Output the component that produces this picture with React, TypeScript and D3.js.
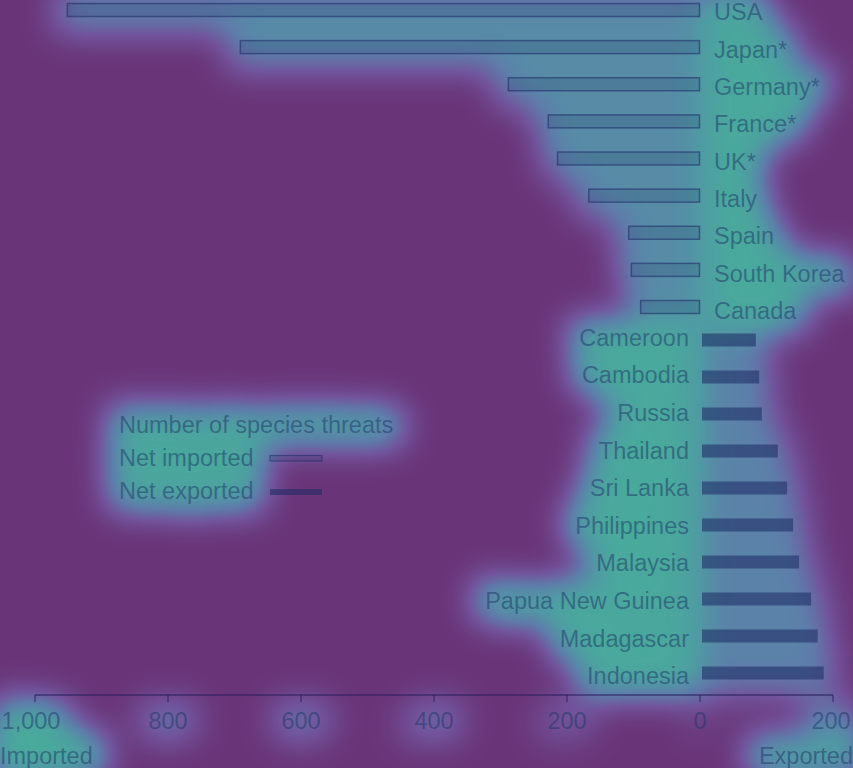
import { useEffect } from "react";
import * as d3 from "d3";

// Countries that import more species threats than they export (top block)
const importers = ["USA", "Japan*", "Germany*", "France*", "UK*", "Italy", "Spain", "South Korea", "Canada"];
const importedThreats = [952, 692, 289, 229, 215, 168, 108, 104, 90];

// Countries that export more species threats (bottom block)
const exporters = [
  "Cameroon", "Cambodia", "Russia", "Thailand", "Sri Lanka",
  "Philippines", "Malaysia", "Papua New Guinea", "Madagascar", "Indonesia",
];
const exportedThreats = [84, 89, 93, 117, 131, 140, 149, 167, 177, 186];

const tickValues = [-1000, -800, -600, -400, -200, 0, 200];

const W = 853;
const H = 768;
const FONT = "'Liberation Sans', Arial, sans-serif";

// colour ramp of the attention overlay (low -> high)
const ramp = [
  [106, 53, 120],
  [114, 84, 156],
  [95, 124, 170],
  [80, 154, 164],
  [72, 174, 154],
];
const table = (k: number) => ramp.map((c) => (c[k] / 255).toFixed(3)).join(" ");

type Row = { name: string; value: number; kind: "imp" | "exp"; by: number; ly: number };

export default function App() {
  useEffect(() => {
    document.body.style.margin = "0";
  }, []);

  // two blocks, each on its own point scale (bars and labels are spaced slightly differently)
  const yImpBar = d3.scalePoint<string>().domain(importers).range([10, 307]);
  const yImpLab = d3.scalePoint<string>().domain(importers).range([12, 311]);
  const yExpBar = d3.scalePoint<string>().domain(exporters).range([340, 673]);
  const yExpLab = d3.scalePoint<string>().domain(exporters).range([337.5, 676]);

  const rows: Row[] = [
    ...importers.map((n, i) => ({ name: n, value: -importedThreats[i], kind: "imp" as const, by: yImpBar(n)!, ly: yImpLab(n)! })),
    ...exporters.map((n, i) => ({ name: n, value: exportedThreats[i], kind: "exp" as const, by: yExpBar(n)!, ly: yExpLab(n)! })),
  ];

  const x = d3.scaleLinear().domain([-1000, 200]).range([35, 833]);
  const barH = 13;
  const x0 = x(0);
  const axisY = 695;
  const fmt = d3.format(",");
  const fs = 23.5;

  const tickGlow: Record<number, number> = { [-1000]: 0.95, [-800]: 0.5, [-600]: 0.5, [-400]: 0.45, [-200]: 0.3, 0: 0.15, 200: 0.55 };

  const textFill = "#1b3566";
  const textOp = 0.5;

  const labels = rows.map((r) => ({
    text: r.name,
    x: r.kind === "imp" ? x0 + 14 : x0 - 11,
    y: r.ly,
    anchor: r.kind === "imp" ? "start" : "end",
  }));

  const legend = [
    { text: "Number of species threats", x: 119, y: 425 },
    { text: "Net imported", x: 119, y: 458 },
    { text: "Net exported", x: 119, y: 491 },
  ];

  const tickLabel = (t: number) => (t === -1000 ? x(t) - 4 : t === 200 ? x(t) - 2 : x(t));

  return (
    <svg width={W} height={H} style={{ display: "block" }} fontFamily={FONT}>
      <defs>
        <filter id="heat" x="0" y="0" width={W} height={H} filterUnits="userSpaceOnUse" colorInterpolationFilters="sRGB">
          <feGaussianBlur stdDeviation="17" />
          <feComponentTransfer>
            <feFuncR type="table" tableValues={table(0)} />
            <feFuncG type="table" tableValues={table(1)} />
            <feFuncB type="table" tableValues={table(2)} />
            <feFuncA type="linear" slope="0" intercept="1" />
          </feComponentTransfer>
        </filter>
      </defs>

      <rect width={W} height={H} fill="rgb(106,53,120)" />

      {/* attention glow */}
      <g filter="url(#heat)">
        <rect x={-40} y={-40} width={W + 80} height={H + 80} fill="#000" />
        {rows.map((r) => {
          const a = Math.min(x(r.value), x0);
          const w = Math.abs(x(r.value) - x0);
          return (
            <rect key={r.name} x={a - 12} y={r.by - barH / 2 - 16} width={w + 24} height={barH + 32}
              fill="#fff" fillOpacity={r.kind === "imp" ? 0.58 : 0.5} />
          );
        })}
        {labels.map((l) => (
          <text key={l.text} x={l.x} y={l.y} dy="0.35em" textAnchor={l.anchor} fontSize={fs}
            fill="#fff" stroke="#fff" strokeWidth={24} strokeLinejoin="round" opacity={0.95}>{l.text}</text>
        ))}
        {legend.map((l) => (
          <text key={l.text} x={l.x} y={l.y} dy="0.35em" fontSize={fs}
            fill="#fff" stroke="#fff" strokeWidth={24} strokeLinejoin="round" opacity={0.9}>{l.text}</text>
        ))}
        {tickValues.map((t) => (
          <text key={t} x={tickLabel(t)} y={721} dy="0.35em" textAnchor="middle" fontSize={fs}
            fill="#fff" stroke="#fff" strokeWidth={22} opacity={tickGlow[t]}>{fmt(Math.abs(t))}</text>
        ))}
        <text x={0} y={756} dy="0.35em" fontSize={fs} fill="#fff" stroke="#fff" strokeWidth={26}>Imported</text>
        <text x={W} y={756} dy="0.35em" textAnchor="end" fontSize={fs} fill="#fff" stroke="#fff" strokeWidth={26} opacity={0.85}>Exported</text>
      </g>

      {/* bars */}
      {rows.map((r) => {
        const a = Math.min(x(r.value), x0);
        const w = Math.abs(x(r.value) - x0);
        return r.kind === "imp" ? (
          <rect key={r.name} x={a + 0.5} y={r.by - barH / 2} width={w - 1} height={barH}
            fill="#1b3566" fillOpacity={0.18} stroke="#1e2a66" strokeOpacity={0.55} strokeWidth={1.5} />
        ) : (
          <rect key={r.name} x={x0 + 2} y={r.by - barH / 2} width={w - 2} height={barH}
            fill="#1c2a62" fillOpacity={0.55} />
        );
      })}

      {/* category labels */}
      {labels.map((l) => (
        <text key={l.text} x={l.x} y={l.y} dy="0.35em" textAnchor={l.anchor} fontSize={fs}
          fill={textFill} fillOpacity={textOp}>{l.text}</text>
      ))}

      {/* legend */}
      {legend.map((l) => (
        <text key={l.text} x={l.x} y={l.y} dy="0.35em" fontSize={fs} fill={textFill} fillOpacity={textOp}>{l.text}</text>
      ))}
      <rect x={270} y={455.5} width={52} height={5.5} fill="#1b3566" fillOpacity={0.18}
        stroke="#1e2a66" strokeOpacity={0.55} strokeWidth={1.2} />
      <rect x={270} y={489} width={52} height={6} fill="#1c2a62" fillOpacity={0.55} />

      {/* axis */}
      <line x1={x(-1000)} x2={x(200)} y1={axisY} y2={axisY} stroke="#2a1f5e" strokeOpacity={0.7} strokeWidth={1.5} />
      {tickValues.map((t) => (
        <g key={t}>
          <line x1={x(t)} x2={x(t)} y1={axisY} y2={axisY + 7} stroke="#2a1f5e" strokeOpacity={0.7} strokeWidth={1.3} />
          <text x={tickLabel(t)} y={721} dy="0.35em" textAnchor="middle" fontSize={fs}
            fill={textFill} fillOpacity={textOp}>{fmt(Math.abs(t))}</text>
        </g>
      ))}
      <text x={0} y={756} dy="0.35em" fontSize={fs} fill={textFill} fillOpacity={textOp}>Imported</text>
      <text x={W} y={756} dy="0.35em" textAnchor="end" fontSize={fs} fill={textFill} fillOpacity={textOp}>Exported</text>
    </svg>
  );
}
